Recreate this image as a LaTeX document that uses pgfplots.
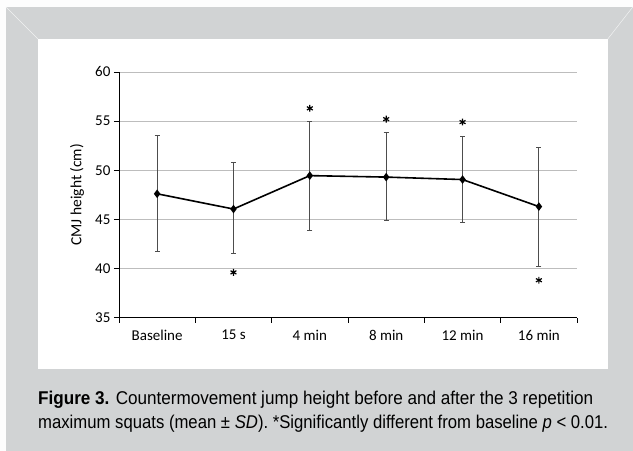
\documentclass[border=0pt]{standalone}
\usepackage{pgfplots}
\pgfplotsset{compat=1.18}
\usepackage{pgfplotstable}
\usepackage{fontspec}
\setmainfont{Carlito}
\newfontfamily\capfont{Liberation Sans}[FakeStretch=0.925]
\newfontfamily\capfontb{Liberation Sans}[FakeStretch=0.903]
\definecolor{framegray}{HTML}{D1D3D4}
\definecolor{gridgray}{HTML}{BDBDBD}
\definecolor{errgray}{HTML}{4D4D4D}

% mean, +SD, -SD
\pgfplotstableread{
x  y      ep    em
0  47.60  5.97  5.90
1  46.05  4.70  4.55
2  49.45  5.55  5.60
3  49.30  4.50  4.45
4  49.05  4.35  4.40
5  46.30  6.00  6.10
}\cmjdata
\pgfplotstableread{
x  y
1  39.6
2  56.3
3  55.2
4  54.9
5  38.8
}\sigdata

\begin{document}
\begin{tikzpicture}
% page: 633 x 451 pt, frame and white panel
\fill[white!96!framegray] (0pt,0pt) rectangle (633pt,451pt);
\fill[framegray] (6pt,0pt) rectangle (633pt,444pt);
\draw[white!70!framegray, line width=0.5pt] (6pt,444pt) -- (38pt,412pt);
\draw[white!70!framegray, line width=0.5pt] (633pt,444pt) -- (608pt,412pt);
\fill[white] (38pt,82pt) rectangle (608pt,412pt);

\begin{axis}[
    at={(119pt,133.3pt)}, anchor=south west,
    scale only axis,
    width=458.3pt, height=245.7pt,
    xmin=-0.5, xmax=5.5,
    ymin=35, ymax=60,
    axis x line*=bottom, axis y line*=left,
    axis line style={-, black, line width=0.8pt},
    xtick={0,...,5},
    xticklabels={Baseline, 15 s, 4 min, 8 min, 12 min, 16 min},
    minor xtick={-0.5,0.5,...,5.5},
    ytick={35,40,...,60},
    major x tick style={draw=none},
    tick align=outside,
    major tick length=5pt, minor tick length=5pt,
    tick style={black, line width=0.8pt},
    ymajorgrids,
    grid style={gridgray, line width=0.8pt},
    tick label style={font=\fontsize{15}{18}\selectfont},
    xticklabel style={yshift=-4pt},
    /pgf/number format/assume math mode=true,
    ylabel={CMJ height (cm)},
    every axis y label/.style={at={(axis description cs:0,0.5)}, xshift=-42pt, rotate=90, anchor=center,
        font=\fontsize{15.5}{18}\selectfont},
    clip=false,
]
\addplot[draw=none, mark=none, forget plot,
    error bars/.cd, y dir=both, y explicit,
    error bar style={errgray, line width=0.9pt},
    error mark options={rotate=90, errgray, mark size=2.5pt, line width=0.9pt}]
    table[x=x, y=y, y error plus=ep, y error minus=em] {\cmjdata};
\addplot[black, line width=1.6pt, mark=diamond*, mark size=3pt]
    table[x=x, y=y] {\cmjdata};
\addplot[only marks, black, mark=asterisk, mark size=3.4pt, line width=1.2pt]
    table[x=x, y=y] {\sigdata};
\end{axis}

\node[anchor=base west, inner sep=0pt, font=\capfont\fontsize{18.5}{22}\selectfont] at (38pt,46pt)
    {\textbf{Figure 3.} Countermovement jump height before and after the 3 repetition};
\node[anchor=base west, inner sep=0pt, font=\capfontb\fontsize{18.5}{22}\selectfont] at (38pt,22.4pt)
    {maximum squats (mean ± \textit{SD}). *Significantly different from baseline \textit{p} < 0.01.};
\end{tikzpicture}
\end{document}
